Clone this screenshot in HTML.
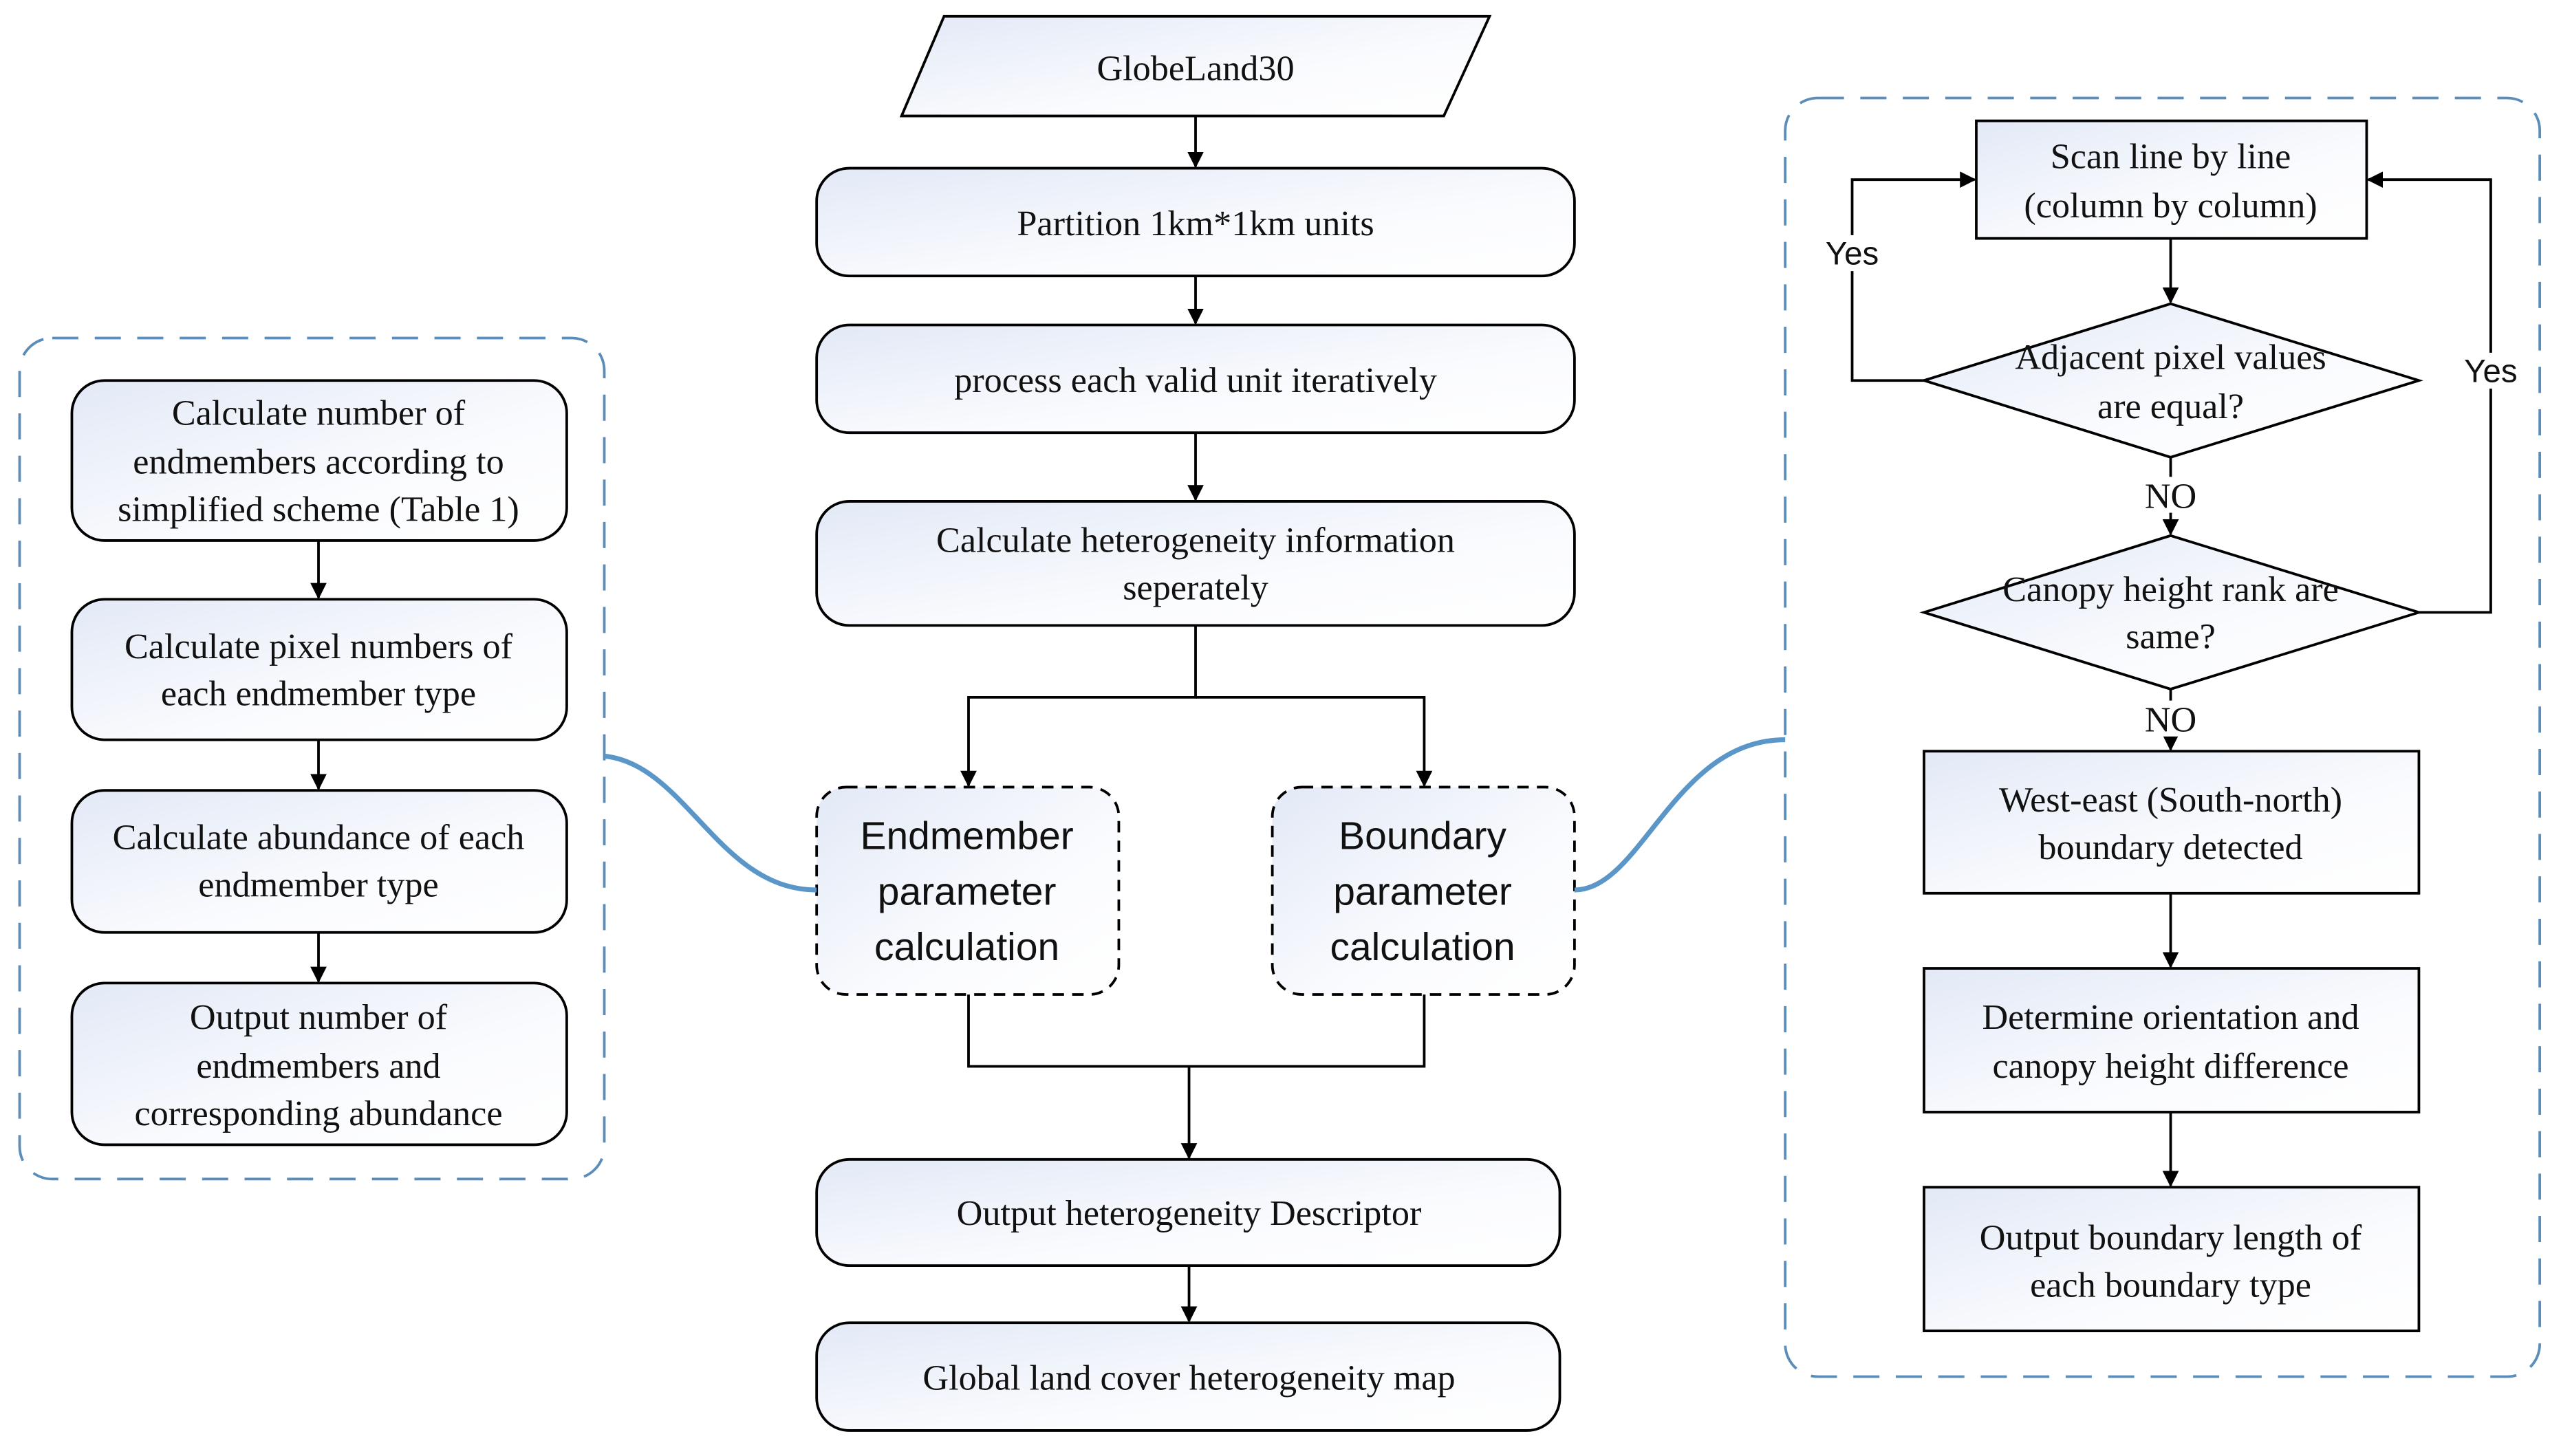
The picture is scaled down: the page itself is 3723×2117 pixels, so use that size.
<!DOCTYPE html>
<html><head><meta charset="utf-8"><style>html,body{margin:0;padding:0;background:#fff}svg{display:block}</style></head><body>
<svg width="3723" height="2117" viewBox="0 0 1568 891.6" preserveAspectRatio="none" xmlns="http://www.w3.org/2000/svg">
<defs>
<linearGradient id="g" x1="0" y1="0" x2="1" y2="1"><stop offset="0" stop-color="#e2e9f6"/><stop offset="0.6" stop-color="#fafbfe"/><stop offset="1" stop-color="#ffffff"/></linearGradient>
<marker id="a" markerWidth="10" markerHeight="10" refX="9" refY="5" orient="auto" markerUnits="userSpaceOnUse"><path d="M0,0 L10,5 L0,10 z" fill="#000"/></marker>
</defs>
<g font-family="Liberation Serif, serif" font-size="22" text-anchor="middle" fill="#111">
<!-- center -->
<polygon points="578,10 912,10 884,71 552,71" fill="url(#g)" stroke="#000" stroke-width="1.6"/>
<text x="732" y="49">GlobeLand30</text>
<g stroke="#000" stroke-width="1.6" fill="none">
<line x1="732" y1="71" x2="732" y2="102" marker-end="url(#a)"/>
<line x1="732" y1="169" x2="732" y2="198" marker-end="url(#a)"/>
<line x1="732" y1="265" x2="732" y2="306" marker-end="url(#a)"/>
<polyline points="732,383 732,427 593,427 593,481" marker-end="url(#a)"/>
<polyline points="732,427 872,427 872,481" marker-end="url(#a)"/>
<polyline points="593,609 593,653 872,653 872,609"/>
<line x1="728" y1="653" x2="728" y2="709" marker-end="url(#a)"/>
<line x1="728" y1="775" x2="728" y2="809" marker-end="url(#a)"/>
</g>
<rect x="500" y="103" width="464" height="66" rx="20" fill="url(#g)" stroke="#000" stroke-width="1.6"/>
<text x="732" y="144">Partition 1km*1km units</text>
<rect x="500" y="199" width="464" height="66" rx="20" fill="url(#g)" stroke="#000" stroke-width="1.6"/>
<text x="732" y="240">process each valid unit iteratively</text>
<rect x="500" y="307" width="464" height="76" rx="20" fill="url(#g)" stroke="#000" stroke-width="1.6"/>
<text x="732" y="338">Calculate heterogeneity information</text>
<text x="732" y="367">seperately</text>
<rect x="500" y="482" width="185" height="127" rx="18" fill="url(#g)" stroke="#000" stroke-width="1.6" stroke-dasharray="7,5"/>
<rect x="779" y="482" width="185" height="127" rx="18" fill="url(#g)" stroke="#000" stroke-width="1.6" stroke-dasharray="7,5"/>
<g font-family="Liberation Sans, sans-serif" font-size="24">
<text x="592" y="520">Endmember</text><text x="592" y="554">parameter</text><text x="592" y="588">calculation</text>
<text x="871" y="520">Boundary</text><text x="871" y="554">parameter</text><text x="871" y="588">calculation</text>
</g>
<rect x="500" y="710" width="455" height="65" rx="20" fill="url(#g)" stroke="#000" stroke-width="1.6"/>
<text x="728" y="750">Output heterogeneity Descriptor</text>
<rect x="500" y="810" width="455" height="66" rx="20" fill="url(#g)" stroke="#000" stroke-width="1.6"/>
<text x="728" y="851">Global land cover heterogeneity  map</text>
<!-- left -->
<rect x="12" y="207" width="358" height="515" rx="20" fill="none" stroke="#5b8db8" stroke-width="1.6" stroke-dasharray="16,10"/>
<g stroke="#000" stroke-width="1.6" fill="none">
<line x1="195" y1="331" x2="195" y2="366" marker-end="url(#a)"/>
<line x1="195" y1="453" x2="195" y2="483" marker-end="url(#a)"/>
<line x1="195" y1="571" x2="195" y2="601" marker-end="url(#a)"/>
</g>
<rect x="44" y="233" width="303" height="98" rx="20" fill="url(#g)" stroke="#000" stroke-width="1.6"/>
<text x="195" y="260">Calculate number of</text><text x="195" y="290">endmembers according to</text><text x="195" y="319">simplified scheme (Table 1)</text>
<rect x="44" y="367" width="303" height="86" rx="20" fill="url(#g)" stroke="#000" stroke-width="1.6"/>
<text x="195" y="403">Calculate  pixel numbers of</text><text x="195" y="432">each endmember type</text>
<rect x="44" y="484" width="303" height="87" rx="20" fill="url(#g)" stroke="#000" stroke-width="1.6"/>
<text x="195" y="520">Calculate abundance of each</text><text x="195" y="549">endmember type</text>
<rect x="44" y="602" width="303" height="99" rx="20" fill="url(#g)" stroke="#000" stroke-width="1.6"/>
<text x="195" y="630">Output number of</text><text x="195" y="660">endmembers and</text><text x="195" y="689">corresponding abundance</text>
<!-- curves -->
<path d="M370,463 C420,468 440,545 500,545" fill="none" stroke="#5b96c8" stroke-width="3"/>
<path d="M964,545 C1005,545 1025,453 1093,453" fill="none" stroke="#5b96c8" stroke-width="3"/>
<!-- right -->
<rect x="1093" y="60" width="462" height="783" rx="20" fill="none" stroke="#5b8db8" stroke-width="1.6" stroke-dasharray="16,10"/>
<g stroke="#000" stroke-width="1.6" fill="none">
<line x1="1329" y1="146" x2="1329" y2="185" marker-end="url(#a)"/>
<line x1="1329" y1="280" x2="1329" y2="327" marker-end="url(#a)"/>
<line x1="1329" y1="422" x2="1329" y2="459" marker-end="url(#a)"/>
<line x1="1329" y1="547" x2="1329" y2="592" marker-end="url(#a)"/>
<line x1="1329" y1="681" x2="1329" y2="726" marker-end="url(#a)"/>
<polyline points="1178,233 1134,233 1134,110 1209,110" marker-end="url(#a)"/>
<polyline points="1481,375 1525,375 1525,110 1450,110" marker-end="url(#a)"/>
</g>
<rect x="1210" y="74" width="239" height="72" fill="url(#g)" stroke="#000" stroke-width="1.6"/>
<text x="1329" y="103">Scan line by line</text><text x="1329" y="133">(column by column)</text>
<polygon points="1329,186 1481,233 1329,280 1178,233" fill="url(#g)" stroke="#000" stroke-width="1.6"/>
<text x="1329" y="226">Adjacent pixel values</text><text x="1329" y="256">are equal?</text>
<polygon points="1329,328 1481,375 1329,422 1178,375" fill="url(#g)" stroke="#000" stroke-width="1.6"/>
<text x="1329" y="368">Canopy height rank are</text><text x="1329" y="397">same?</text>
<rect x="1312" y="292" width="34" height="22" fill="#fff"/>
<text x="1329" y="311">NO</text>
<rect x="1312" y="429" width="34" height="22" fill="#fff"/>
<text x="1329" y="448">NO</text>
<g font-family="Liberation Sans, sans-serif" font-size="20">
<rect x="1114" y="144" width="40" height="22" fill="#fff"/>
<text x="1134" y="162">Yes</text>
<rect x="1505" y="216" width="40" height="22" fill="#fff"/>
<text x="1525" y="234">Yes</text>
</g>
<rect x="1178" y="460" width="303" height="87" fill="url(#g)" stroke="#000" stroke-width="1.6"/>
<text x="1329" y="497">West-east (South-north)</text><text x="1329" y="526">boundary detected</text>
<rect x="1178" y="593" width="303" height="88" fill="url(#g)" stroke="#000" stroke-width="1.6"/>
<text x="1329" y="630">Determine  orientation and</text><text x="1329" y="660">canopy height difference</text>
<rect x="1178" y="727" width="303" height="88" fill="url(#g)" stroke="#000" stroke-width="1.6"/>
<text x="1329" y="765">Output boundary length  of</text><text x="1329" y="794">each boundary type</text>
</g>
</svg>
</body></html>
